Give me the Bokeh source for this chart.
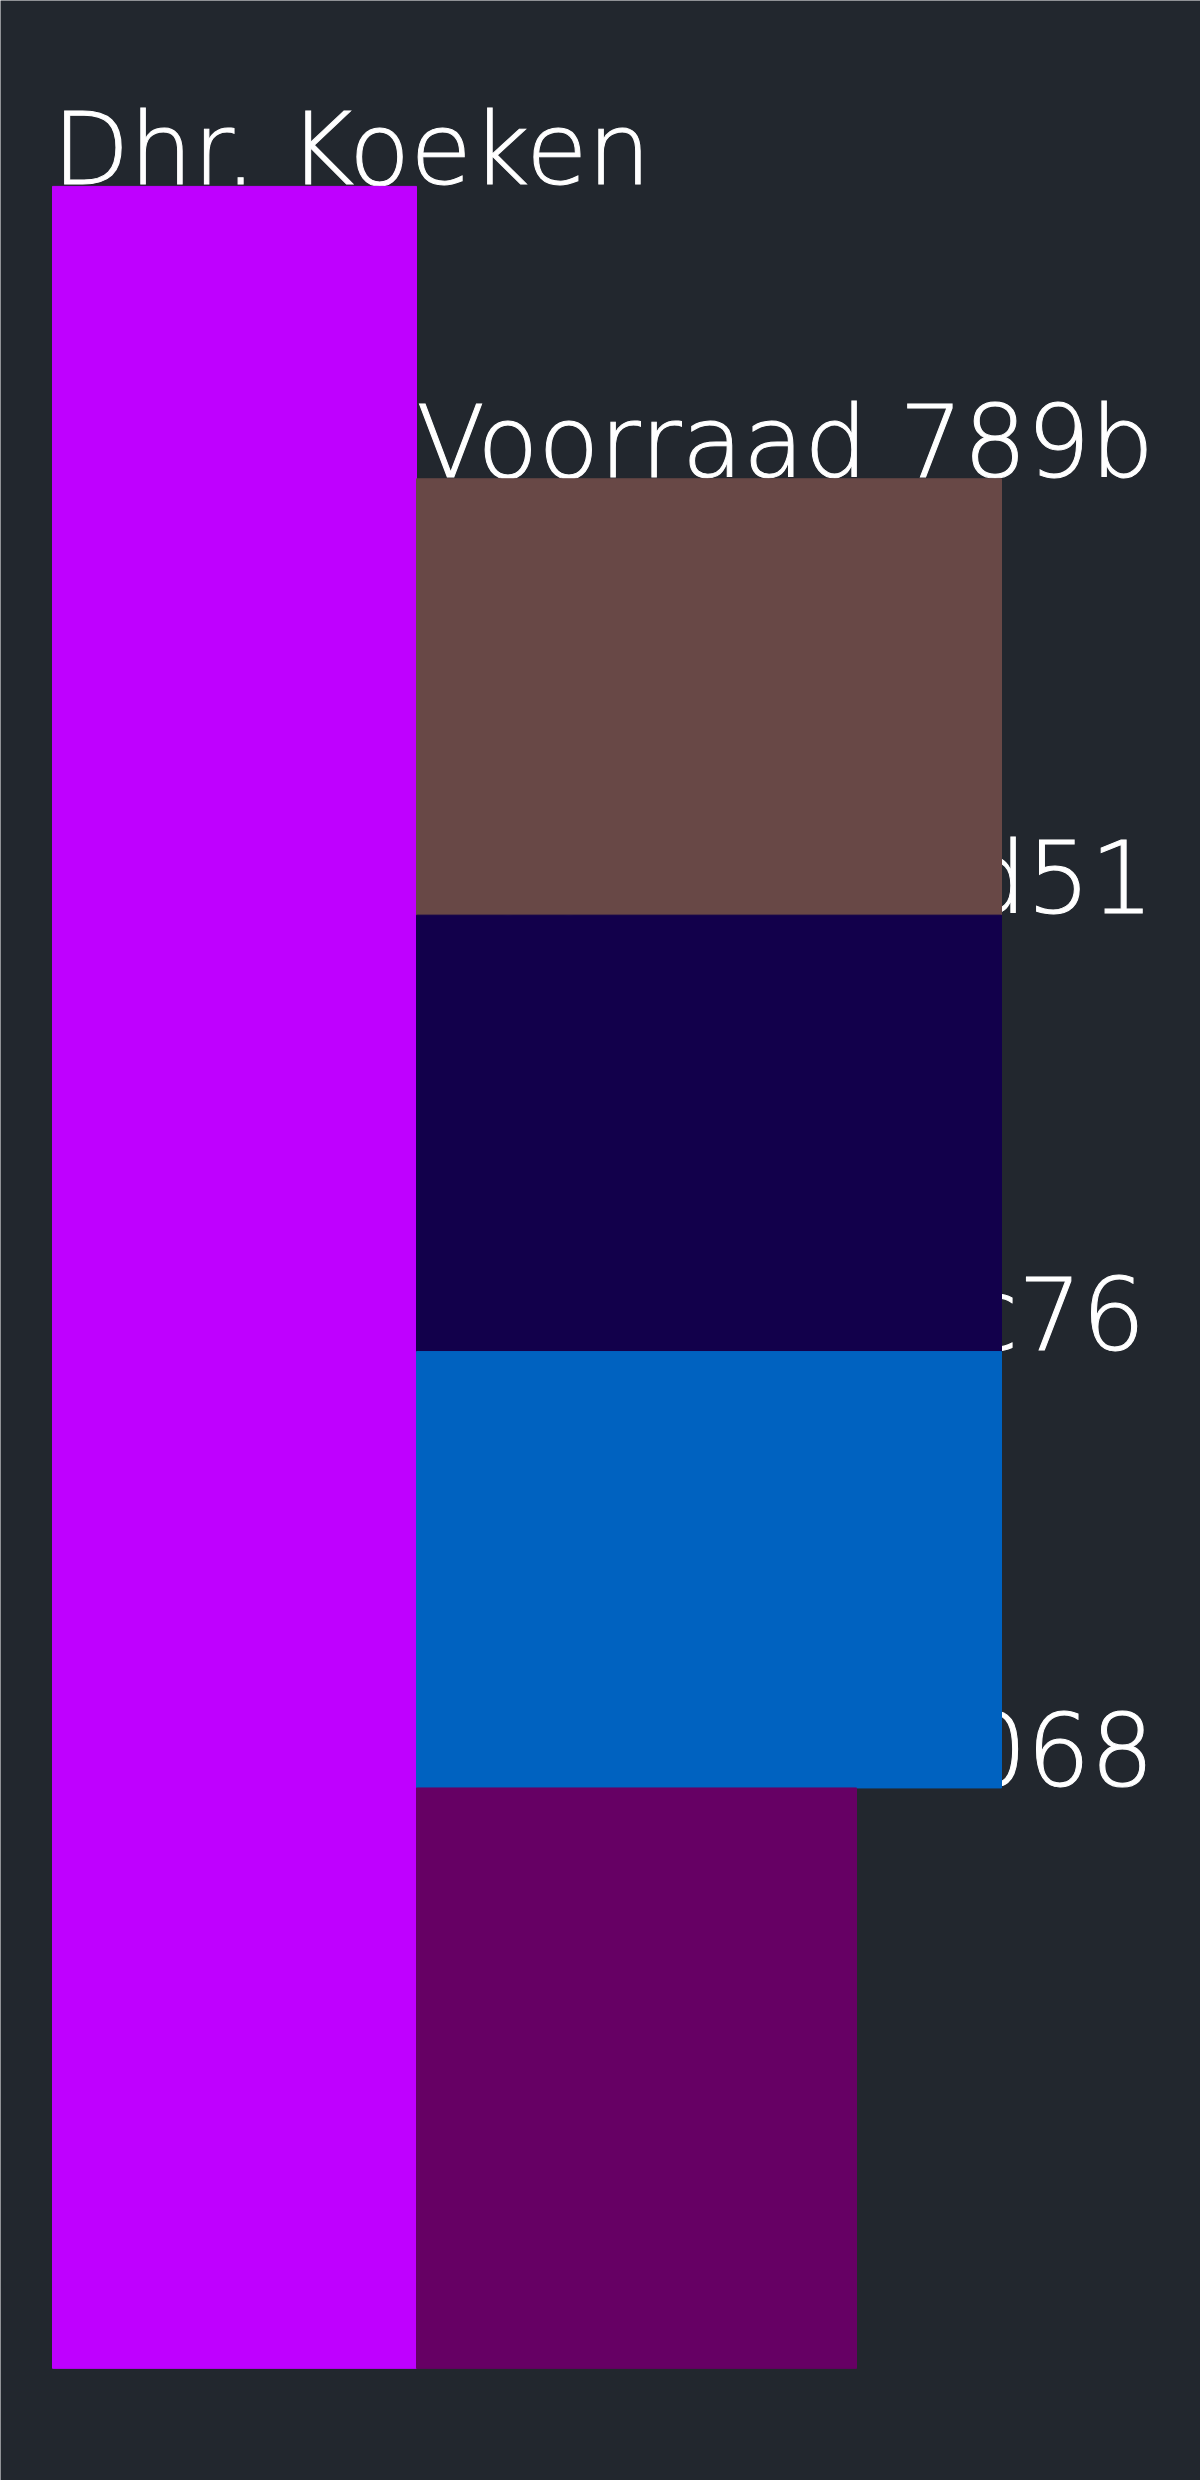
from bokeh.plotting import figure
from bokeh.models import Range1d, ColumnDataSource
from bokeh.core.properties import value
from bokeh.embed import file_html
from bokeh.resources import INLINE

# Data
labels = ["Dhr. Koeken", "Voorraad 789b", "Voorraad 4d51", "Voorraad 2c76", "Voorraad 5068"]
parents = ["", "Dhr. Koeken", "Dhr. Koeken", "Dhr. Koeken", "Dhr. Koeken"]
values = [5.0, 1.0, 1.0, 1.0, 1.33]
widths = [3.64, 5.85, 5.85, 5.85, 4.40]
colors = ["#bf00ff", "#684846", "#12004b", "#0062c0", "#660064"]

# Layout (partition, children stacked to the bottom of the parent)
x0, x1, y0, y1 = [], [], [], []
root_val = values[0]
x0.append(0.0); x1.append(widths[0]); y0.append(0.0); y1.append(root_val)
child_total = sum(values[1:])
cur = root_val - child_total
for i in range(1, len(labels)):
    x0.append(widths[0]); x1.append(widths[0] + widths[i])
    y0.append(cur); y1.append(cur + values[i])
    cur += values[i]

src = ColumnDataSource(dict(label=labels, x0=x0, x1=x1, y0=y0, y1=y1, color=colors))

bg = "#22272e"
p = figure(width=1200, height=2480, output_backend="svg", toolbar_location=None,
           x_range=Range1d(-0.52, 11.48), y_range=Range1d(5.257, -0.426),
           min_border=0, background_fill_color=bg, border_fill_color=bg,
           outline_line_color=None)
p.axis.visible = False
p.grid.visible = False

p.text(x="x0", y="y0", text="label", source=src, text_color="white",
       text_outline_color="white",
       text_font=value("DejaVu Sans"), text_font_size="100px",
       text_baseline="bottom", text_align="left", y_offset=22)
p.quad(left="x0", right="x1", bottom="y1", top="y0", source=src,
       fill_color="color", line_color="color", line_width=1)

html = file_html(p, INLINE)
html = html.replace("<body>", '<body style="margin:0;background:#22272e">', 1)
open("out.html", "w").write(html)
